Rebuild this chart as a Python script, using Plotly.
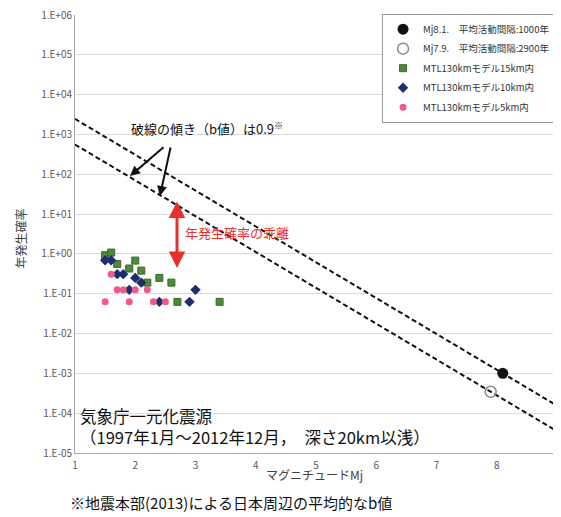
import numpy as np
import plotly.graph_objects as go

# ---- data ----
mj_big = [8.1]
p_big = [1 / 1000]
mj_small = [7.9]
p_small = [1 / 2900]

mj_15km = [1.5, 1.6, 1.7, 1.9, 2.0, 2.1, 2.2, 2.4, 2.6, 2.7, 3.4]
p_15km = [0.93, 1.08, 0.56, 0.43, 0.68, 0.38, 0.19, 0.25, 0.19, 0.0625, 0.0625]

mj_10km = [1.5, 1.6, 1.7, 1.8, 1.9, 2.0, 2.1, 2.4, 2.9, 3.0]
p_10km = [0.69, 0.69, 0.31, 0.31, 0.125, 0.25, 0.19, 0.0625, 0.0625, 0.125]

mj_5km = [1.5, 1.6, 1.7, 1.8, 1.9, 2.0, 2.2, 2.3, 2.5]
p_5km = [0.0625, 0.31, 0.125, 0.125, 0.0625, 0.125, 0.125, 0.0625, 0.0625]

b_value = 0.9
line_mj = [1, 9]

y_tickvals = [1e-5, 1e-4, 1e-3, 1e-2, 1e-1, 1e0, 1e1, 1e2, 1e3, 1e4, 1e5, 1e6]
y_ticktext = ["1.E-05", "1.E-04", "1.E-03", "1.E-02", "1.E-01", "1.E+00",
              "1.E+01", "1.E+02", "1.E+03", "1.E+04", "1.E+05", "1.E+06"]
x_tickvals = [1, 2, 3, 4, 5, 6, 7, 8, 9]

FONT = "Noto Sans CJK JP, Noto Sans, sans-serif"


def gr_line(m0, p0):
    return [p0 * 10 ** (-b_value * (m - m0)) for m in line_mj]


fig = go.Figure()

# dashed Gutenberg-Richter lines (b = 0.9) through the two events
for m0, p0 in [(mj_big[0], p_big[0]), (mj_small[0], p_small[0])]:
    fig.add_trace(go.Scatter(x=line_mj, y=gr_line(m0, p0), mode="lines",
                             line=dict(color="#111111", width=2, dash="5px,3px"),
                             showlegend=False, hoverinfo="skip"))

fig.add_trace(go.Scatter(x=mj_big, y=p_big, mode="markers", name="Mj8.1.　平均活動間隔:1000年",
                         legendgroup="a",
                         marker=dict(symbol="circle", size=11, color="#111111")))
fig.add_trace(go.Scatter(x=mj_small, y=p_small, mode="markers", name="Mj7.9.　平均活動間隔:2900年",
                         legendgroup="b",
                         marker=dict(symbol="circle-open", size=11, color="#8a8a8a",
                                     line=dict(width=1.5, color="#8a8a8a"))))
fig.add_trace(go.Scatter(x=mj_15km, y=p_15km, mode="markers", name="MTL130kmモデル15km内",
                         legendgroup="c",
                         marker=dict(symbol="square", size=7, color="#4f8a3a",
                                     line=dict(width=1, color="#3a6b2a"))))
fig.add_trace(go.Scatter(x=mj_10km, y=p_10km, mode="markers", name="MTL130kmモデル10km内",
                         legendgroup="d",
                         marker=dict(symbol="diamond", size=8, color="#1f2d6e")))
fig.add_trace(go.Scatter(x=mj_5km, y=p_5km, mode="markers", name="MTL130kmモデル5km内",
                         legendgroup="e",
                         marker=dict(symbol="circle", size=7, color="#ee5a8c")))

annotations = [
    # y-axis title
    dict(text="年発生確率", x=-0.114, y=0.49, xref="paper", yref="paper",
         xanchor="center", yanchor="middle",
         textangle=-90, showarrow=False, font=dict(size=12, color="#404040")),
    # x-axis title
    dict(text="マグニチュードMj", x=0.496, y=-0.05, xref="paper", yref="paper",
         xanchor="center", yanchor="middle",
         showarrow=False, font=dict(size=12, color="#404040")),
    # footnote
    dict(text="※地震本部(2013)による日本周辺の平均的なb値", x=-0.0145, y=-0.113,
         xref="paper", yref="paper", xanchor="left", yanchor="middle",
         showarrow=False, font=dict(size=15, color="#111111")),
    # source text
    dict(text="気象庁一元化震源<br>（1997年1月～2012年12月，　深さ20km以浅）", x=0.006, y=0.061,
         xref="paper", yref="paper", xanchor="left", yanchor="middle", align="left",
         showarrow=False, font=dict(size=16.5, color="#111111")),
    # b-value label
    dict(text="破線の傾き（b値）は0.9<sup>※</sup>", x=0.112, y=0.742,
         xref="paper", yref="paper", xanchor="left", yanchor="middle", showarrow=False,
         font=dict(size=13, color="#111111")),
    # red label
    dict(text="年発生確率の乖離", x=0.224, y=0.503, xref="paper", yref="paper",
         xanchor="left", yanchor="middle", showarrow=False,
         font=dict(size=13, color="#e8302a")),
    # black arrows
    dict(x=1.913, y=1.955, xref="x", yref="y", ax=35, ay=-30, text="",
         showarrow=True, arrowhead=2, arrowsize=1, arrowwidth=2, arrowcolor="#111111"),
    dict(x=2.409, y=1.454, xref="x", yref="y", ax=11, ay=-50, text="",
         showarrow=True, arrowhead=2, arrowsize=1, arrowwidth=2, arrowcolor="#111111"),
    # red double arrow
    dict(x=2.693, y=-0.351, xref="x", yref="y", ax=0, ay=-68, text="",
         showarrow=True, arrowhead=2, startarrowhead=2, arrowside="end+start",
         arrowsize=1.1, arrowwidth=3, arrowcolor="#e8302a"),
]

# the page body adds an 8 px offset, so the margins are trimmed accordingly
fig.update_layout(
    width=561, height=517,
    margin=dict(l=67, r=12, t=7, b=72, autoexpand=False),
    paper_bgcolor="white", plot_bgcolor="white",
    font=dict(family=FONT, size=10, color="#404040"),
    annotations=annotations,
    legend=dict(x=0.637, y=1.003, xanchor="left", yanchor="top",
                bgcolor="white", bordercolor="#9a9a9a", borderwidth=1,
                font=dict(size=9.5, color="#333333"), tracegroupgap=0.5,
                itemwidth=30),
    xaxis=dict(range=[1, 9], tickvals=x_tickvals, showgrid=False, zeroline=False,
               showline=True, linecolor="#a6a6a6", ticks="", automargin=False,
               ticklabelstandoff=3, ticklabeloverflow="allow",
               tickfont=dict(size=10, color="#595959")),
    yaxis=dict(type="log", range=[-5, 6], tickvals=y_tickvals, ticktext=y_ticktext,
               showgrid=True, gridcolor="#dadada", zeroline=False, automargin=False,
               showline=True, linecolor="#a6a6a6", ticks="", ticklabeloverflow="allow",
               tickfont=dict(size=10, color="#595959")),
)

fig.write_html("out.html")
